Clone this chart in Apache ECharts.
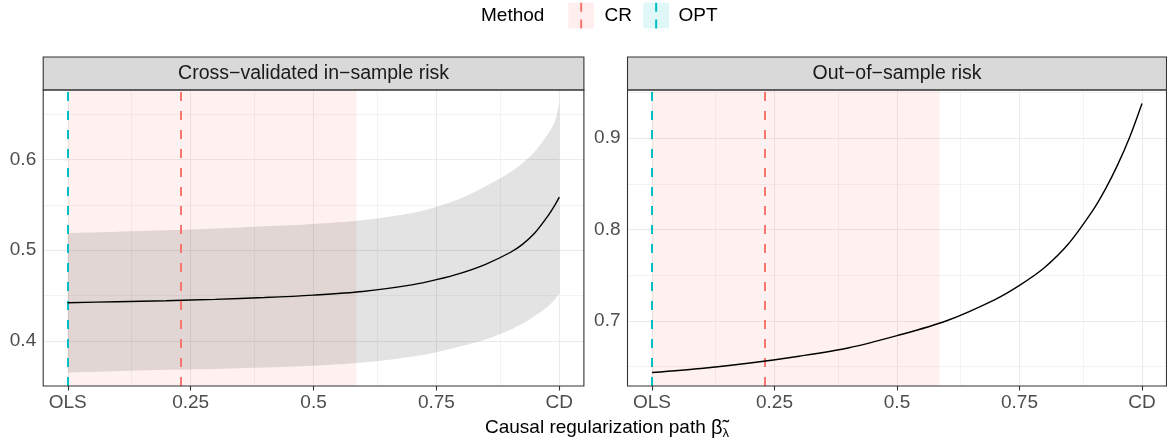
<!DOCTYPE html>
<html><head><meta charset="utf-8">
<script src="https://cdn.jsdelivr.net/npm/echarts@6/dist/echarts.min.js"></script>
<style>html,body{margin:0;padding:0;background:#fff}#c{width:1167px;height:444px}</style>
</head><body><div id="c"></div>
<script>
// ---------------- data ----------------
const lambdaIn = [0,0.1,0.2,0.3,0.4,0.5,0.6,0.7,0.75,0.8,0.85,0.9,0.925,0.95,0.975,0.99,1.0];
const riskIn = [0.442,0.4432,0.4443,0.4458,0.4478,0.4505,0.4545,0.4618,0.4675,0.4748,0.4845,0.4975,0.5065,0.519,0.5365,0.549,0.5587];
const riskInUpper = [0.519,0.5205,0.522,0.524,0.5265,0.529,0.533,0.541,0.548,0.5575,0.5705,0.586,0.596,0.609,0.627,0.641,0.662];
const riskInLower = [0.365,0.3665,0.368,0.369,0.3705,0.3725,0.376,0.3825,0.3875,0.394,0.4015,0.412,0.419,0.4275,0.437,0.445,0.4525];
const lambdaOut = [0,0.1,0.2,0.3,0.4,0.5,0.6,0.7,0.75,0.8,0.85,0.9,0.925,0.95,0.975,1.0];
const riskOut = [0.6436,0.648,0.654,0.6615,0.6705,0.684,0.700,0.7235,0.739,0.758,0.7845,0.8213,0.844,0.8705,0.9013,0.938];
const crLambda = 0.234;
const optLambda = 0;
const crBand = [0, 0.587];
const methods = ['CR','OPT'];
const panelTitles = ['Cross\u2212validated in\u2212sample risk','Out\u2212of\u2212sample risk'];
const xTickValues = [0,0.25,0.5,0.75,1];
const xTickLabels = ['OLS','0.25','0.5','0.75','CD'];
const xMinor = [0.125,0.375,0.625,0.875];
const yTicksIn = [0.4,0.5,0.6];
const yMinorIn = [0.35,0.45,0.55,0.65];
const yTicksOut = [0.7,0.8,0.9];
const yMinorOut = [0.65,0.75,0.85,0.95];

// ---------------- styling / layout ----------------
const FONT = '"Liberation Sans", Arial, Helvetica, sans-serif';
const FS = 19;
const RED = '#F8766D', CYAN = '#00BFC4';
const SMOOTH = 0.3;
const P = [{left:43.2, top:90, width:540.7, height:296}, {left:627.5, top:90, width:539, height:296}];

function expand(lo, hi){ const r = hi - lo; return [lo - 0.05*r, hi + 0.05*r]; }
const yInExt = expand(Math.min(...riskInLower), Math.max(...riskInUpper));
const yOutExt = expand(Math.min(...riskOut), Math.max(...riskOut));

function gridLineData(yMaj, yMin){
  const d = [];
  xMinor.forEach(v => d.push({xAxis:v, lineStyle:{width:0.6}}));
  yMin.forEach(v => d.push({yAxis:v, lineStyle:{width:0.6}}));
  xTickValues.forEach(v => d.push({xAxis:v, lineStyle:{width:1.1}}));
  yMaj.forEach(v => d.push({yAxis:v, lineStyle:{width:1.1}}));
  return d;
}

function xAxisDef(i){
  return {
    gridIndex:i, type:'value', min:-0.05, max:1.05,
    axisLine:{show:false}, splitLine:{show:false},
    axisTick:{show:true, customValues:xTickValues, length:4.5, lineStyle:{color:'#333333', width:1.1}},
    axisLabel:{customValues:xTickValues, margin:7, color:'#4D4D4D', fontFamily:FONT, fontSize:FS,
      formatter: v => { const k = xTickValues.indexOf(v); return k >= 0 ? xTickLabels[k] : String(v); }}
  };
}
function yAxisDef(i, ext, ticks){
  return {
    gridIndex:i, type:'value', min:ext[0], max:ext[1],
    axisLine:{show:false}, splitLine:{show:false},
    axisTick:{show:true, customValues:ticks, length:4.5, lineStyle:{color:'#333333', width:1.1}},
    axisLabel:{customValues:ticks, margin:7, color:'#4D4D4D', fontFamily:FONT, fontSize:FS,
      formatter: v => v.toFixed(1)}
  };
}

function panelSeries(i, yMaj, yMin){
  const s = [];
  s.push({ type:'line', xAxisIndex:i, yAxisIndex:i, data:[], silent:true, z:1,
    markLine:{ silent:true, z:1, symbol:['none','none'], label:{show:false}, animation:false,
      emphasis:{disabled:true}, lineStyle:{color:'#EBEBEB', type:'solid'}, data:gridLineData(yMaj, yMin) } });
  s.push({ type:'line', xAxisIndex:i, yAxisIndex:i, data:[], silent:true, z:2,
    markArea:{ silent:true, z:2, animation:false, itemStyle:{color:'rgba(248,118,109,0.1)'},
      emphasis:{disabled:true}, data:[[{xAxis:crBand[0]},{xAxis:crBand[1]}]] } });
  return s;
}

const series = [];
series.push(...panelSeries(0, yTicksIn, yMinorIn));
series.push(...panelSeries(1, yTicksOut, yMinorOut));

// ribbon (left panel): one polygon through upper edge then lower edge (corners doubled so smoothing keeps them sharp)
series.push({ type:'custom', xAxisIndex:0, yAxisIndex:0, z:3, silent:true, clip:true,
  data: lambdaIn.map((t,k) => [t, riskIn[k]]),
  renderItem: (params, api) => {
    if (params.dataIndex !== 0) return null;
    const up = lambdaIn.map((t,k) => api.coord([t, riskInUpper[k]]));
    const lo = lambdaIn.map((t,k) => api.coord([t, riskInLower[k]])).reverse();
    const n = up.length;
    const pts = [up[0], up[0].slice()].concat(up.slice(1, n-1), [up[n-1], up[n-1].slice(), lo[0], lo[0].slice()],
                lo.slice(1, n-1), [lo[n-1], lo[n-1].slice()]);
    return { type:'polygon', shape:{points:pts, smooth:SMOOTH}, style:{fill:'rgba(0,0,0,0.11)'} };
  } });

// method vlines
[0,1].forEach(i => {
  series.push({ name:methods[0], type:'line', xAxisIndex:i, yAxisIndex:i, data:[], silent:true, z:4,
    markLine:{ silent:true, z:4, symbol:['none','none'], label:{show:false}, animation:false,
      emphasis:{disabled:true}, lineStyle:{color:RED, width:2, type:[9,10]}, data:[{xAxis:crLambda}] } });
  series.push({ name:methods[1], type:'line', xAxisIndex:i, yAxisIndex:i, data:[], silent:true, z:4,
    markLine:{ silent:true, z:4, symbol:['none','none'], label:{show:false}, animation:false,
      emphasis:{disabled:true}, lineStyle:{color:CYAN, width:2, type:[9,10]}, data:[{xAxis:optLambda}] } });
});

// risk lines
series.push({ type:'line', xAxisIndex:0, yAxisIndex:0, z:5, silent:true, showSymbol:false,
  smooth:SMOOTH, lineStyle:{color:'#000', width:1.4},
  data: lambdaIn.map((t,k) => [t, riskIn[k]]) });
series.push({ type:'line', xAxisIndex:1, yAxisIndex:1, z:5, silent:true, showSymbol:false,
  smooth:SMOOTH, lineStyle:{color:'#000', width:1.4},
  data: lambdaOut.map((t,k) => [t, riskOut[k]]) });

// graphics: strips, borders, legend, axis title
const graphic = [];
P.forEach((p,i) => {
  graphic.push({ type:'rect', z:100, shape:{x:p.left, y:57, width:p.width, height:33},
    style:{fill:'#D9D9D9', stroke:'#333333', lineWidth:1.1} });
  graphic.push({ type:'text', z:101, x:p.left + p.width/2, y:74,
    style:{text:panelTitles[i], font:'19.5px '+FONT, fill:'#1A1A1A', align:'center', verticalAlign:'middle'} });
  graphic.push({ type:'rect', z:100, shape:{x:p.left, y:p.top, width:p.width, height:p.height},
    style:{fill:null, stroke:'#333333', lineWidth:1.1} });
});
graphic.push({ type:'text', z:101, x:481, y:16,
  style:{text:'Method', font:FS+'px '+FONT, fill:'#000', align:'left', verticalAlign:'middle'} });
const keys = [{x:568.3, fill:'rgba(248,118,109,0.12)', c:RED, tx:604.5},
              {x:643.3, fill:'rgba(0,191,196,0.12)', c:CYAN, tx:678.5}];
keys.forEach((k,i) => {
  graphic.push({ type:'rect', z:101, shape:{x:k.x, y:2.7, width:25.7, height:25.7}, style:{fill:k.fill} });
  graphic.push({ type:'line', z:102, shape:{x1:k.x+12.85, y1:2.7, x2:k.x+12.85, y2:28.4},
    style:{stroke:k.c, lineWidth:2, lineDash:[9,7.7]} });
  graphic.push({ type:'text', z:101, x:k.tx, y:16,
    style:{text:methods[i], font:FS+'px '+FONT, fill:'#000', align:'left', verticalAlign:'middle'} });
});
graphic.push({ type:'text', z:101, x:607, y:428,
  style:{ text:'{a|Causal regularization path }{b|\u03B2\u0303}{c|\u03BB}', align:'center', verticalAlign:'middle',
    rich:{ a:{fontFamily:FONT, fontSize:FS, fill:'#000'}, b:{fontFamily:FONT, fontSize:FS+1, fill:'#000'},
           c:{fontFamily:FONT, fontSize:13, fill:'#000', padding:[10,0,0,0]} } } });

const chart = echarts.init(document.getElementById('c'), null, {renderer:'canvas'});
chart.setOption({
  animation:false,
  backgroundColor:'#fff',
  grid: P.map(p => ({left:p.left, top:p.top, width:p.width, height:p.height, show:true,
    backgroundColor:'#fff', borderWidth:0, containLabel:false})),
  xAxis:[xAxisDef(0), xAxisDef(1)],
  yAxis:[yAxisDef(0, yInExt, yTicksIn), yAxisDef(1, yOutExt, yTicksOut)],
  series,
  graphic
});
</script></body></html>
